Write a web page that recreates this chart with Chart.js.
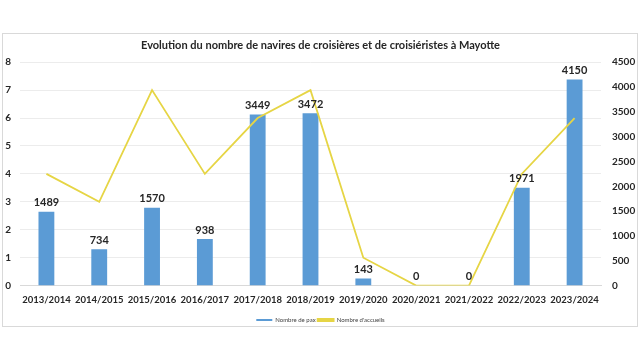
<!DOCTYPE html>
<html>
<head>
<meta charset="utf-8">
<script src="https://cdn.jsdelivr.net/npm/chart.js@4/dist/chart.umd.min.js"></script>
<style>
  html, body { margin: 0; padding: 0; background: #fff; }
  #wrap { width: 640px; height: 360px; }
</style>
</head>
<body>
<div id="wrap"><canvas id="myChart" width="640" height="360"></canvas></div>
<script>
// saisons
const saisons = ['2013/2014', '2014/2015', '2015/2016', '2016/2017', '2017/2018', '2018/2019',
  '2019/2020', '2020/2021', '2021/2022', '2022/2023', '2023/2024'];
// croisieristes (axe droit)
const pax = [1489, 734, 1570, 938, 3449, 3472, 143, 0, 0, 1971, 4150];
// navires accueillis (axe gauche)
const accueils = [4, 3, 7, 4, 6, 7, 1, 0, 0, 4, 6];

const FONT = 'Lato, "Open Sans", sans-serif';

/* cadre gris autour du graphique */
const cadre = {
  id: 'cadre',
  beforeDraw(chart) {
    const c = chart.ctx;
    c.save();
    c.fillStyle = '#fff';
    c.fillRect(0, 0, chart.width, chart.height);
    c.strokeStyle = '#d9d9d9';
    c.lineWidth = 1;
    c.strokeRect(2.5, 33.5, 635, 293);
    c.restore();
  }
};

/* etiquettes au-dessus des barres */
const etiquettes = {
  id: 'etiquettes',
  afterDatasetsDraw(chart) {
    const c = chart.ctx;
    const meta = chart.getDatasetMeta(0);
    c.save();
    c.font = 'bold 11px ' + FONT;
    c.fillStyle = '#262626';
    c.textAlign = 'center';
    c.textBaseline = 'middle';
    meta.data.forEach((bar, i) => {
      c.fillText(String(pax[i]), bar.x, bar.y - 9);
    });
    c.restore();
  }
};

const ctx = document.getElementById('myChart');
new Chart(ctx, {
  data: {
    labels: saisons,
    datasets: [
      {
        type: 'bar',
        label: 'Nombre de pax',
        data: pax,
        yAxisID: 'y1',
        backgroundColor: '#5b9bd5',
        barPercentage: 0.6,
        categoryPercentage: 0.5,
        order: 2
      },
      {
        type: 'line',
        label: "Nombre d'accueils",
        data: accueils,
        yAxisID: 'y',
        borderColor: '#e6d545',
        backgroundColor: '#e6d545',
        borderWidth: 1.8,
        pointRadius: 0,
        tension: 0,
        order: 1
      }
    ]
  },
  options: {
    responsive: false,
    animation: false,
    layout: { padding: { top: 39, left: 5, right: 4, bottom: 27 } },
    plugins: {
      title: {
        display: true,
        text: 'Evolution du nombre de navires de croisières et de croisiéristes à Mayotte',
        color: '#262626',
        font: { family: FONT, size: 11, weight: 'bold' },
        padding: { top: 0, bottom: 10 }
      },
      legend: {
        position: 'bottom',
        labels: {
          color: '#404040',
          font: { family: FONT, size: 6 },
          boxWidth: 16,
          boxHeight: 2,
          padding: 2,
          sort: (a, b) => a.datasetIndex - b.datasetIndex
        }
      },
      tooltip: { enabled: false }
    },
    scales: {
      x: {
        grid: { display: false, drawTicks: false },
        border: { color: '#d9d9d9' },
        ticks: {
          color: '#262626',
          font: { family: FONT, size: 9.5, weight: 'bold' },
          maxRotation: 0,
          autoSkip: false,
          padding: 9
        }
      },
      y: {
        position: 'left',
        min: 0,
        max: 8,
        grid: { color: '#ececec', drawTicks: false },
        border: { display: false },
        ticks: {
          stepSize: 1,
          color: '#262626',
          font: { family: FONT, size: 10, weight: 'bold' },
          padding: 9
        },
        afterFit: (scale) => { scale.width = 15; }
      },
      y1: {
        position: 'right',
        min: 0,
        max: 4500,
        grid: { display: false, drawTicks: false },
        border: { display: false },
        ticks: {
          stepSize: 500,
          color: '#262626',
          font: { family: FONT, size: 10, weight: 'bold' },
          padding: 11,
          callback: (v) => String(v)
        },
        afterFit: (scale) => { scale.width = 35; }
      }
    }
  },
  plugins: [cadre, etiquettes]
});
</script>
</body>
</html>
